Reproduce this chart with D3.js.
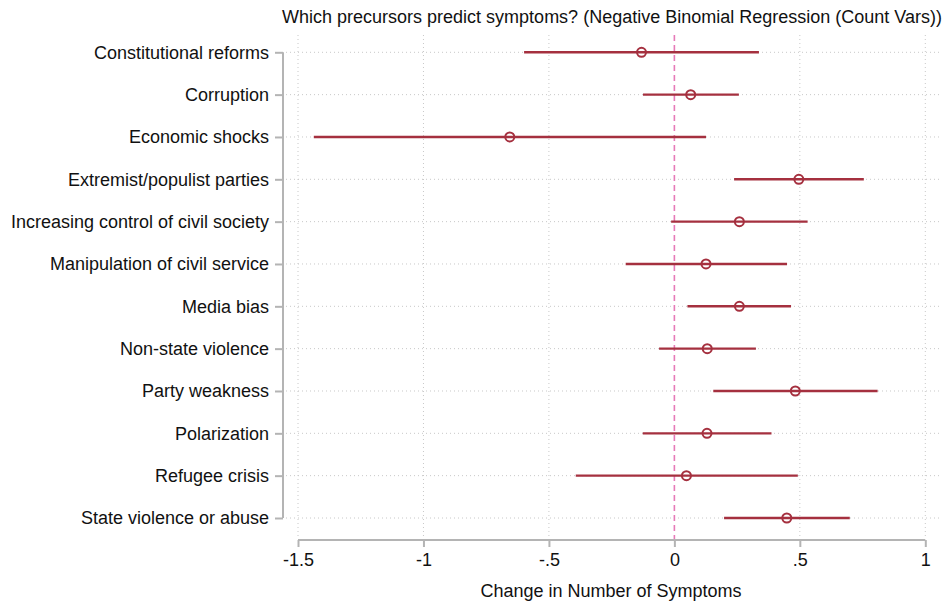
<!DOCTYPE html>
<html>
<head>
<meta charset="utf-8">
<script src="https://cdn.jsdelivr.net/npm/d3@7"></script>
<style>
  html, body { margin: 0; padding: 0; background: #fff; }
  svg { display: block; font-family: "Liberation Sans", Arial, Helvetica, sans-serif; }
</style>
</head>
<body>
<svg id="chart" width="945" height="603"></svg>
<script>
// Precursors and their estimated effects with 95% confidence bounds
const categories = [
  "Constitutional reforms",
  "Corruption",
  "Economic shocks",
  "Extremist/populist parties",
  "Increasing control of civil society",
  "Manipulation of civil service",
  "Media bias",
  "Non-state violence",
  "Party weakness",
  "Polarization",
  "Refugee crisis",
  "State violence or abuse"
];
const estimates = [-0.131, 0.065, -0.656, 0.496, 0.259, 0.126, 0.259, 0.131, 0.482, 0.130, 0.048, 0.448];
const lowerCI   = [-0.599, -0.125, -1.437, 0.238, -0.013, -0.194, 0.052, -0.061, 0.155, -0.126, -0.393, 0.198];
const upperCI   = [0.337, 0.257, 0.126, 0.755, 0.531, 0.449, 0.465, 0.325, 0.810, 0.387, 0.492, 0.699];
const xTicks = [-1.5, -1, -0.5, 0, 0.5, 1];
const xTickLabels = ["-1.5", "-1", "-.5", "0", ".5", "1"];

const rows = categories.map((c, i) => ({ name: c, est: estimates[i], lo: lowerCI[i], hi: upperCI[i] }));

const svg = d3.select("#chart");

const plotTop = 35, plotBottom = 537, plotLeft = 286, plotRight = 940;

const x = d3.scaleLinear().domain([-1.5, 1]).range([298, 925.3]);
const y = d3.scalePoint().domain(categories).range([52.3, 518]);

const markColor = "#a5303f";
const gridColor = "#c8c8c8";
const axisColor = "#b4b4b4";
const textFont = "Liberation Sans, Arial, sans-serif";

// title
svg.append("text")
  .attr("x", 612).attr("y", 23)
  .attr("text-anchor", "middle")
  .attr("font-size", 18)
  .attr("fill", "#111")
  .text("Which precursors predict symptoms? (Negative Binomial Regression (Count Vars))");

// gridlines
const grid = svg.append("g");
grid.selectAll("line.h").data(categories).join("line")
  .attr("x1", plotLeft).attr("x2", plotRight)
  .attr("y1", d => y(d)).attr("y2", d => y(d))
  .attr("stroke", gridColor).attr("stroke-width", 1)
  .attr("stroke-dasharray", "1,3");
grid.selectAll("line.v").data(xTicks.filter(t => t !== 0)).join("line")
  .attr("x1", d => x(d)).attr("x2", d => x(d))
  .attr("y1", plotTop).attr("y2", plotBottom)
  .attr("stroke", gridColor).attr("stroke-width", 1)
  .attr("stroke-dasharray", "1,3");

// reference line at zero
svg.append("line")
  .attr("x1", x(0)).attr("x2", x(0))
  .attr("y1", plotTop).attr("y2", plotBottom + 3)
  .attr("stroke", "#e67ab8").attr("stroke-width", 1.6)
  .attr("stroke-dasharray", "6,4");

// y axis
const yAxis = svg.append("g")
  .attr("transform", "translate(283,0)")
  .call(d3.axisLeft(y).tickSize(8).tickPadding(6));
yAxis.select(".domain").attr("stroke", axisColor).attr("stroke-width", 2)
  .attr("d", `M0,${y(categories[0])}V${y(categories[categories.length - 1])}`);
yAxis.selectAll(".tick line").attr("stroke", axisColor).attr("stroke-width", 2);
yAxis.selectAll(".tick text").attr("font-size", 18).attr("fill", "#111")
  .attr("font-family", textFont);

// x axis
const xAxis = svg.append("g")
  .attr("transform", "translate(0,540)")
  .call(d3.axisBottom(x).tickValues(xTicks).tickFormat((d, i) => xTickLabels[i]).tickSize(7).tickPadding(6));
xAxis.select(".domain").attr("stroke", axisColor).attr("stroke-width", 2)
  .attr("d", `M${x(-1.5)},0H${x(1)}`);
xAxis.selectAll(".tick line").attr("stroke", axisColor).attr("stroke-width", 2);
xAxis.selectAll(".tick text").attr("font-size", 18).attr("fill", "#111")
  .attr("font-family", textFont);

// x axis title
svg.append("text")
  .attr("x", 611).attr("y", 597)
  .attr("text-anchor", "middle")
  .attr("font-size", 18)
  .attr("fill", "#111")
  .text("Change in Number of Symptoms");

// confidence intervals
const marks = svg.append("g");
marks.selectAll("line.ci").data(rows).join("line")
  .attr("class", "ci")
  .attr("x1", d => x(d.lo)).attr("x2", d => x(d.hi))
  .attr("y1", d => y(d.name)).attr("y2", d => y(d.name))
  .attr("stroke", markColor).attr("stroke-width", 2.4);

// point estimates
marks.selectAll("circle").data(rows).join("circle")
  .attr("cx", d => x(d.est)).attr("cy", d => y(d.name))
  .attr("r", 4.5)
  .attr("fill", "none")
  .attr("stroke", markColor).attr("stroke-width", 2);
</script>
</body>
</html>
